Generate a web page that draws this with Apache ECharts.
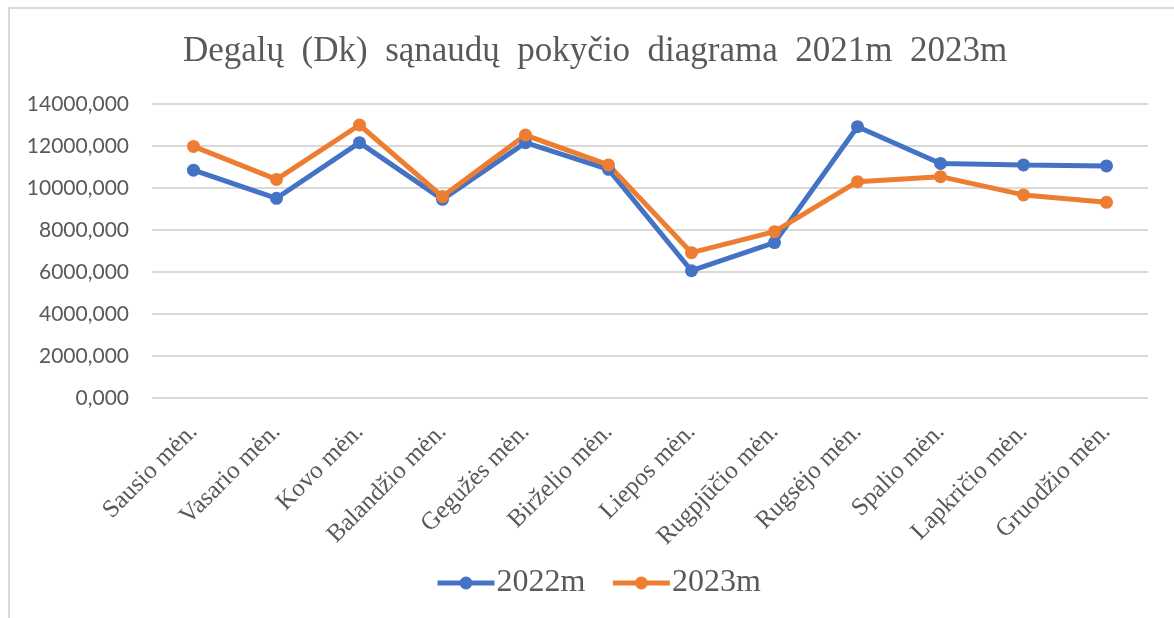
<!DOCTYPE html>
<html>
<head>
<meta charset="utf-8">
<script src="https://cdn.jsdelivr.net/npm/echarts@6/dist/echarts.min.js"></script>
<style>
  html, body { margin: 0; padding: 0; background: #fff; }
  #main { width: 1174px; height: 618px; position: relative; }
  #frame { position: absolute; left: 8px; top: 7px; right: 0; bottom: 0;
           border-top: 2px solid #d9d9d9; border-left: 2px solid #d9d9d9; pointer-events: none; }
</style>
</head>
<body>
<div id="main"></div>
<div id="frame"></div>
<script>
// menesiai
var months = ['Sausio mėn.', 'Vasario mėn.', 'Kovo mėn.', 'Balandžio mėn.', 'Gegužės mėn.', 'Birželio mėn.',
  'Liepos mėn.', 'Rugpjūčio mėn.', 'Rugsėjo mėn.', 'Spalio mėn.', 'Lapkričio mėn.', 'Gruodžio mėn.'];
var seriesNames = ['2022m', '2023m'];
var values2022 = [10850, 9510, 12160, 9460, 12160, 10890, 6060, 7400, 12920, 11170, 11100, 11050];
var values2023 = [11980, 10410, 13000, 9590, 12520, 11100, 6920, 7920, 10300, 10540, 9670, 9320];
var yMin = 0, yMax = 14000, yStep = 2000;

var serif = '"Liberation Serif", "Times New Roman", serif';
var gray = '#595959';

var chart = echarts.init(document.getElementById('main'));

var option = {
  backgroundColor: '#fff',
  animation: false,
  color: ['#4472C4', '#ED7D31'],
  title: {
    text: 'Degalų  (Dk)  sąnaudų  pokyčio  diagrama  2021m  2023m',
    left: 178,
    top: 29,
    textStyle: { fontFamily: serif, fontSize: 35, fontWeight: 'normal', color: gray }
  },
  legend: {
    bottom: 14,
    left: 430,
    itemWidth: 57,
    itemHeight: 16,
    itemGap: 25,
    lineStyle: { width: 5 },
    textStyle: { fontFamily: serif, fontSize: 32, color: gray, padding: [0, 0, 0, -3] },
    data: seriesNames
  },
  grid: { left: 152, right: 26, top: 104, bottom: 220 },
  xAxis: {
    type: 'category',
    data: months,
    boundaryGap: true,
    axisLine: { show: false },
    axisTick: { show: false },
    axisLabel: { rotate: 45, margin: 30, interval: 0, fontFamily: serif, fontSize: 25, color: gray }
  },
  yAxis: {
    type: 'value',
    min: yMin,
    max: yMax,
    interval: yStep,
    axisLine: { show: false },
    axisTick: { show: false },
    splitLine: { lineStyle: { color: '#d9d9d9', width: 2 } },
    axisLabel: {
      margin: 23,
      fontFamily: 'Lato, "Liberation Sans", sans-serif',
      fontSize: 21,
      color: gray,
      formatter: function (v) { return v.toFixed(3).replace('.', ','); }
    }
  },
  series: [
    {
      name: seriesNames[0],
      type: 'line',
      data: values2022,
      symbol: 'circle',
      symbolSize: 13,
      lineStyle: { width: 5 }
    },
    {
      name: seriesNames[1],
      type: 'line',
      data: values2023,
      symbol: 'circle',
      symbolSize: 13,
      lineStyle: { width: 5 }
    }
  ]
};

chart.setOption(option);
</script>
</body>
</html>
